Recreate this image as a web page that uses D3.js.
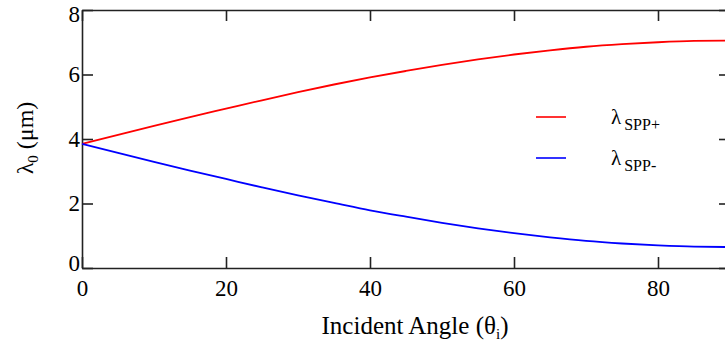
<!DOCTYPE html>
<html><head><meta charset="utf-8">
<script src="https://cdn.jsdelivr.net/npm/d3@7"></script>
<style>
html,body{margin:0;padding:0;background:#fff;}
svg{display:block;}
</style></head>
<body>
<svg id="chart" width="725" height="347"></svg>
<script>
// Incident angle (degrees)
const angles = [0,5,10,15,20,25,30,35,40,45,50,55,60,65,70,75,80,85,90];
// lambda_SPP+ (µm)
const lambdaPlus = [3.85,4.13,4.41,4.68,4.94,5.20,5.45,5.69,5.91,6.11,6.30,6.47,6.62,6.75,6.86,6.94,7.00,7.04,7.05];
// lambda_SPP- (µm)
const lambdaMinus = [3.85,3.57,3.29,3.02,2.76,2.50,2.25,2.02,1.79,1.59,1.40,1.23,1.08,0.95,0.84,0.76,0.70,0.66,0.65];
const xTicks = [0,20,40,60,80];
const yTicks = [0,2,4,6,8];
const seriesNames = ["SPP+","SPP-"];
const seriesColors = ["#ff0000","#0000ff"];

const FONT = "Liberation Serif";
const svg = d3.select("#chart");
const x = d3.scaleLinear().domain([0,90]).range([82,730]);
const y = d3.scaleLinear().domain([0,8]).range([268,10]);

const axisStyle = g => {
  g.attr("font-family",FONT).attr("font-size",23);
  g.select(".domain").attr("stroke","#222").attr("stroke-width",1.6);
  g.selectAll(".tick line").attr("stroke","#222").attr("stroke-width",1.6);
};

svg.append("g").attr("transform",`translate(0,${y(0)})`)
  .call(d3.axisBottom(x).tickValues(xTicks).tickSize(-11).tickSizeOuter(0).tickPadding(12))
  .call(axisStyle)
  .call(g=>g.selectAll("text").attr("fill","#000"));
svg.append("g").attr("transform",`translate(0,${y(8)})`)
  .call(d3.axisTop(x).tickValues(xTicks).tickSize(-11).tickSizeOuter(0).tickFormat(""))
  .call(axisStyle);
svg.append("g").attr("transform",`translate(${x(0)},0)`)
  .call(d3.axisLeft(y).tickValues(yTicks).tickSize(-11).tickSizeOuter(0).tickPadding(2))
  .call(axisStyle)
  .call(g=>g.selectAll("text").attr("fill","#000")
    .attr("dy",d=>d===8?"0.5em":d===0?"0.1em":"0.32em"));
svg.append("g").attr("transform",`translate(${x(90)},0)`)
  .call(d3.axisRight(y).tickValues(yTicks).tickSize(-11).tickSizeOuter(0).tickFormat(""))
  .call(axisStyle);

const line = d3.line().x((d,i)=>x(angles[i])).y(d=>y(d)).curve(d3.curveMonotoneX);
[lambdaPlus, lambdaMinus].forEach((s,k)=>{
  svg.append("path").datum(s).attr("d",line)
    .attr("fill","none").attr("stroke",seriesColors[k]).attr("stroke-width",1.8);
});

// legend
const legY = [117,158];
seriesNames.forEach((n,k)=>{
  svg.append("line").attr("x1",536).attr("x2",566).attr("y1",legY[k]).attr("y2",legY[k])
    .attr("stroke",seriesColors[k]).attr("stroke-width",1.6);
  const t = svg.append("text").attr("x",611).attr("y",legY[k]+7)
    .attr("font-family",FONT).attr("font-size",21);
  t.append("tspan").text("λ");
  t.append("tspan").attr("font-size",16).attr("dy",6).attr("dx",3).text(n);
});

// axis titles
const xt = svg.append("text").attr("x",415).attr("y",334).attr("text-anchor","middle")
  .attr("font-family",FONT).attr("font-size",25);
xt.append("tspan").text("Incident Angle (θ");
xt.append("tspan").attr("font-size",15).attr("dy",5).text("i");
xt.append("tspan").attr("dy",-5).text(")");

const yt = svg.append("text").attr("transform","translate(33,138) rotate(-90)").attr("text-anchor","middle")
  .attr("font-family",FONT).attr("font-size",24);
yt.append("tspan").text("λ");
yt.append("tspan").attr("font-size",15).attr("dy",5).text("0");
yt.append("tspan").attr("dy",-5).text(" (μm)");
</script>
</body></html>
